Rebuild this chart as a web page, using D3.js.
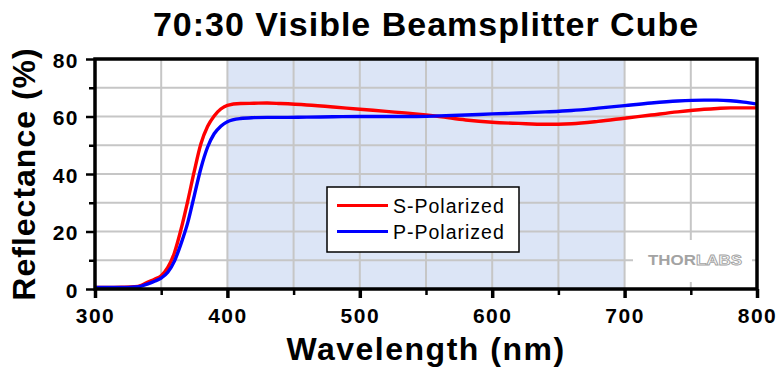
<!DOCTYPE html>
<html>
<head>
<meta charset="utf-8">
<script src="https://cdn.jsdelivr.net/npm/d3@7"></script>
<style>
  body { margin: 0; background: #fff; }
  text { font-family: "Liberation Sans", Arial, sans-serif; }
</style>
</head>
<body>
<div class="vis-chart"></div>
<script>
// wavelength (nm) and reflectance (%)
const wavelength = [300, 310, 320, 330, 335, 340, 345, 350, 355, 360, 365, 370, 375, 380, 385, 390, 395, 400,
    410, 420, 430, 440, 460, 480, 500, 520, 540, 560, 580, 600, 620, 640, 660, 680, 700, 720, 740, 760, 770, 780, 790, 800];
const sPolarized = [0.5, 0.5, 0.6, 0.8, 1.3, 2.4, 3.4, 4.6, 7.5, 12.6, 20.8, 30.5, 41.0, 50.5, 56.5, 60.2, 62.6, 63.9,
    64.5, 64.6, 64.7, 64.5, 64.0, 63.3, 62.5, 61.8, 61.0, 60.0, 58.8, 58.0, 57.6, 57.3, 57.5, 58.3, 59.4, 60.5, 61.6, 62.5, 62.8, 63.0, 63.0, 63.0];
const pPolarized = [0.5, 0.5, 0.5, 0.7, 1.0, 1.8, 2.7, 3.8, 5.8, 9.7, 15.8, 23.0, 32.5, 42.0, 49.3, 54.0, 56.6, 58.2,
    59.3, 59.6, 59.7, 59.7, 59.8, 59.9, 60.0, 60.0, 60.0, 60.2, 60.5, 60.9, 61.2, 61.6, 62.1, 62.9, 63.8, 64.7, 65.4, 65.7, 65.7, 65.5, 65.0, 64.3];
const xTicks = [300, 350, 400, 450, 500, 550, 600, 650, 700, 750, 800];
const yTicks = [0, 10, 20, 30, 40, 50, 60, 70, 80];
const band = [400, 700];
const seriesNames = ["S-Polarized", "P-Polarized"];

const W = 780, H = 370;
const margin = { top: 59, right: 23, bottom: 81, left: 95 };
const width = W - margin.left - margin.right;
const height = H - margin.top - margin.bottom;

const svg = d3.select('.vis-chart').append('svg')
    .attr('width', W)
    .attr('height', H);

const g = svg.append('g')
    .attr('transform', `translate(${margin.left},${margin.top})`);

const x = d3.scaleLinear().domain([300, 800]).range([0, width]);
const y = d3.scaleLinear().domain([0, 80]).range([height, 0]);

// shaded visible band
g.append('rect')
    .attr('x', x(band[0]))
    .attr('y', 0)
    .attr('width', x(band[1]) - x(band[0]))
    .attr('height', height)
    .attr('fill', '#dce5f6');

// grid
g.selectAll('.vgrid')
    .data(xTicks.filter(d => d > 300 && d < 800))
    .enter().append('line')
    .attr('x1', d => x(d)).attr('x2', d => x(d))
    .attr('y1', 0).attr('y2', height)
    .attr('stroke', '#c6c6c6').attr('stroke-width', 2);
g.selectAll('.hgrid')
    .data(yTicks.filter(d => d > 0 && d < 80))
    .enter().append('line')
    .attr('x1', 0).attr('x2', width)
    .attr('y1', d => y(d)).attr('y2', d => y(d))
    .attr('stroke', '#c6c6c6').attr('stroke-width', 2);

// logo with white backing
const logo = g.append('g');
logo.append('rect')
    .attr('x', 633 - margin.left).attr('y', 240 - margin.top)
    .attr('width', 119).attr('height', 42)
    .attr('fill', '#fff');
logo.append('text')
    .attr('x', 648 - margin.left).attr('y', 265 - margin.top)
    .attr('textLength', 94).attr('lengthAdjust', 'spacingAndGlyphs')
    .style('font-size', '15px').style('font-weight', 900)
    .html('<tspan fill="#a3a3a3">THOR</tspan><tspan fill="#fff" stroke="#a3a3a3" stroke-width="0.9">LABS</tspan>');

// data lines
g.append('clipPath').attr('id', 'clip')
    .append('rect').attr('width', width).attr('height', height);

const line = (vals) => d3.line()
    .x((d, i) => x(wavelength[i]))
    .y(d => y(d))
    .curve(d3.curveMonotoneX)(vals);

g.append('path')
    .attr('d', line(sPolarized))
    .attr('fill', 'none').attr('stroke', '#ff0000').attr('stroke-width', 3.4)
    .attr('clip-path', 'url(#clip)');
g.append('path')
    .attr('d', line(pPolarized))
    .attr('fill', 'none').attr('stroke', '#0000ff').attr('stroke-width', 3.4)
    .attr('clip-path', 'url(#clip)');

// X axis
const xAxis = g.append('g')
    .attr('transform', `translate(0,${height})`)
    .call(d3.axisBottom(x).tickValues(xTicks).tickSizeOuter(0)
        .tickFormat(d => d % 100 === 0 ? d : ''));
xAxis.select('.domain').remove();
xAxis.selectAll('.tick line')
    .attr('y2', d => d % 100 === 0 ? 9 : 6)
    .attr('stroke', '#000')
    .attr('stroke-width', d => d % 100 === 0 ? 3.5 : 2.5);
xAxis.selectAll('.tick text')
    .attr('y', 34).attr('dy', 0)
    .attr('fill', '#000')
    .style('font-size', '21px').style('font-weight', 'bold')
    .style('letter-spacing', '1.5px');

// Y axis
const yAxis = g.append('g')
    .call(d3.axisLeft(y).tickValues(yTicks).tickSizeOuter(0)
        .tickFormat(d => d % 20 === 0 ? d : ''));
yAxis.select('.domain').remove();
yAxis.selectAll('.tick line')
    .attr('x2', d => d % 20 === 0 ? -9 : -6)
    .attr('stroke', '#000')
    .attr('stroke-width', 2.5);
yAxis.selectAll('.tick text')
    .attr('x', -16).attr('dy', '0.4em')
    .attr('fill', '#000')
    .style('font-size', '21px').style('font-weight', 'bold')
    .style('letter-spacing', '1.5px');

// frame
g.append('rect')
    .attr('width', width).attr('height', height)
    .attr('fill', 'none').attr('stroke', '#000').attr('stroke-width', 3.5);

// legend
const legend = g.append('g').attr('transform', `translate(${327 - margin.left},${187 - margin.top})`);
legend.append('rect')
    .attr('width', 192).attr('height', 65)
    .attr('fill', '#fff').attr('stroke', '#000').attr('stroke-width', 1.5);
const colors = ['#ff0000', '#0000ff'];
seriesNames.forEach((name, i) => {
    legend.append('line')
        .attr('x1', 10).attr('x2', 61)
        .attr('y1', 18.5 + i * 26).attr('y2', 18.5 + i * 26)
        .attr('stroke', colors[i]).attr('stroke-width', 3);
    legend.append('text')
        .attr('x', 66).attr('y', 25.7 + i * 26.5)
        .style('font-size', '19.5px')
        .style('letter-spacing', '1px')
        .text(name);
});

// axis titles
svg.append('text')
    .attr('text-anchor', 'middle')
    .attr('x', (margin.left + W - margin.right) / 2)
    .attr('y', 360)
    .style('font-size', '32px').style('font-weight', 'bold')
    .style('letter-spacing', '1.5px')
    .text('Wavelength (nm)');

svg.append('text')
    .attr('text-anchor', 'middle')
    .attr('transform', 'rotate(-90)')
    .attr('x', -174)
    .attr('y', 35)
    .style('font-size', '32px').style('font-weight', 'bold')
    .style('letter-spacing', '1px')
    .text('Reflectance (%)');

// title
svg.append('text')
    .attr('text-anchor', 'middle')
    .attr('x', 426)
    .attr('y', 36)
    .style('font-size', '34px').style('font-weight', 'bold')
    .style('letter-spacing', '1px')
    .text('70:30 Visible Beamsplitter Cube');
</script>
</body>
</html>
